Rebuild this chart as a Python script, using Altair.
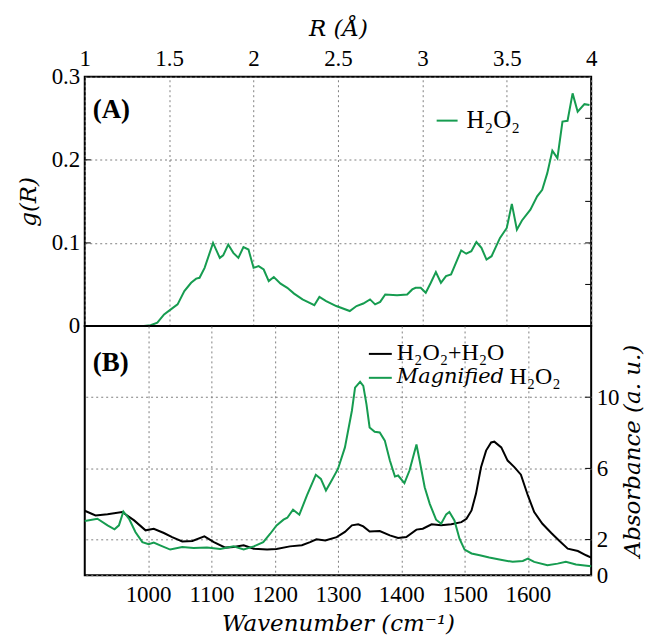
import altair as alt
import pandas as pd

# ---------------- data ----------------
R_A = [1.25, 1.30, 1.35, 1.39, 1.43, 1.47, 1.51, 1.55, 1.59, 1.63, 1.66, 1.68, 1.71, 1.76, 1.80,
       1.82, 1.85, 1.88, 1.91, 1.94, 1.97, 2.00, 2.03, 2.06, 2.09, 2.12, 2.16, 2.20, 2.24, 2.29,
       2.32, 2.36, 2.39, 2.43, 2.49, 2.57, 2.61, 2.65, 2.69, 2.72, 2.75, 2.78, 2.85, 2.91, 2.94,
       2.96, 2.99, 3.02, 3.05, 3.08, 3.11, 3.14, 3.17, 3.23, 3.26, 3.29, 3.32, 3.35, 3.38, 3.41,
       3.46, 3.50, 3.53, 3.56, 3.59, 3.64, 3.68, 3.71, 3.74, 3.77, 3.80, 3.83, 3.86, 3.89, 3.92,
       3.96, 3.99]
G_A = [0, 0, 0, 0.001, 0.004, 0.014, 0.020, 0.026, 0.042, 0.052, 0.057, 0.058, 0.070, 0.100, 0.082,
       0.085, 0.098, 0.088, 0.082, 0.095, 0.092, 0.070, 0.072, 0.068, 0.054, 0.059, 0.051, 0.046, 0.039, 0.032,
       0.029, 0.025, 0.035, 0.030, 0.024, 0.018, 0.024, 0.027, 0.032, 0.026, 0.029, 0.038, 0.037, 0.038, 0.044,
       0.046, 0.046, 0.040, 0.052, 0.065, 0.052, 0.060, 0.062, 0.091, 0.087, 0.090, 0.101, 0.094, 0.080, 0.084,
       0.106, 0.118, 0.147, 0.116, 0.127, 0.140, 0.156, 0.164, 0.184, 0.211, 0.202, 0.246, 0.247, 0.280, 0.258,
       0.267, 0.266]

WN_MIX = [900, 917, 936, 959, 978, 996, 1009, 1025, 1038, 1054, 1070, 1089, 1104, 1122, 1135,
          1151, 1167, 1188, 1203, 1224, 1243, 1256, 1266, 1280, 1298, 1311, 1322, 1332, 1340, 1350,
          1366, 1382, 1395, 1408, 1424, 1434, 1448, 1463, 1479, 1495, 1503, 1511, 1518, 1526, 1534,
          1542, 1547, 1558, 1568, 1579, 1589, 1600, 1610, 1623, 1637, 1650, 1663, 1679, 1692, 1700]
ABS_MIX = [3.62, 3.36, 3.42, 3.55, 3.08, 2.52, 2.61, 2.37, 2.14, 1.90, 1.92, 2.18, 1.86, 1.55, 1.58,
           1.68, 1.49, 1.44, 1.47, 1.62, 1.68, 1.86, 2.02, 1.95, 2.14, 2.43, 2.80, 2.86, 2.74, 2.46,
           2.48, 2.24, 2.09, 2.14, 2.56, 2.61, 2.86, 2.80, 2.86, 2.98, 3.17, 3.64, 4.57, 6.06, 7.00,
           7.46, 7.50, 7.18, 6.44, 6.06, 5.65, 4.48, 3.55, 2.89, 2.37, 1.92, 1.49, 1.36, 1.12, 0.99]

WN_MAG = [900, 920, 936, 947, 954, 961, 970, 980, 991, 1001, 1009, 1020, 1035, 1054, 1072,
          1093, 1114, 1135, 1151, 1167, 1182, 1193, 1203, 1214, 1220, 1229, 1239, 1251, 1265, 1273,
          1281, 1290, 1300, 1311, 1322, 1327, 1335, 1340, 1345, 1350, 1358, 1366, 1374, 1382, 1390,
          1395, 1405, 1413, 1424, 1429, 1437, 1445, 1455, 1463, 1471, 1476, 1484, 1492, 1500, 1511,
          1524, 1539, 1555, 1576, 1592, 1600, 1610, 1631, 1647, 1660, 1676, 1700]
ABS_MAG = [3.04, 3.17, 2.80, 2.58, 2.80, 3.58, 3.17, 2.43, 1.86, 1.74, 1.83, 1.66, 1.44, 1.58, 1.53,
           1.55, 1.47, 1.62, 1.44, 1.62, 1.86, 2.33, 2.80, 3.12, 3.23, 3.68, 3.40, 4.48, 5.64, 5.41,
           4.76, 5.32, 5.97, 7.18, 9.24, 10.54, 10.86, 10.64, 9.61, 8.30, 8.06, 8.02, 7.56, 6.44, 5.54,
           5.60, 5.17, 5.88, 7.34, 6.44, 4.94, 4.01, 3.12, 2.89, 3.42, 3.55, 3.08, 2.05, 1.44, 1.22,
           1.12, 0.99, 0.88, 0.75, 0.80, 0.93, 0.75, 0.56, 0.65, 0.75, 0.60, 0.50]

R_TICKS = [1, 1.5, 2, 2.5, 3, 3.5, 4]
G_TICKS = [0, 0.1, 0.2, 0.3]
G_RIGHT_MINOR = [0.05, 0.1, 0.15, 0.2, 0.25]
G_LEFT_MINOR = [0.1, 0.2]
WN_TICKS = [1000, 1100, 1200, 1300, 1400, 1500, 1600]
ABS_TICKS = [0, 2, 6, 10]
ABS_RIGHT_MINOR = [2, 6, 10]

GREEN = "#169c50"
FONT = "Liberation Serif"
TFONT = "DejaVu Serif"
W, H = 508, 250
LBL = 23
TTL = 23

dfA = pd.DataFrame({"R": R_A, "g": G_A})
dfMix = pd.DataFrame({"wn": WN_MIX, "A": ABS_MIX})
dfMag = pd.DataFrame({"wn": WN_MAG, "A": ABS_MAG})

axis_common = dict(labelFont=FONT, labelFontSize=LBL, labelColor="black", labelFlush=False,
                   titleFont=TFONT, titleFontSize=TTL, titleFontStyle="italic",
                   titleFontWeight="normal", titleColor="black",
                   ticks=False, domain=False, grid=True, gridDash=[2, 3],
                   gridColor="#808080", gridWidth=1, gridOpacity=1)

xA = alt.X("R:Q", scale=alt.Scale(domain=[1, 4], nice=False),
           axis=alt.Axis(orient="top", values=R_TICKS, format="~g", title="R (Å)",
                         labelPadding=6, titlePadding=7, **axis_common))
yA = alt.Y("g:Q", scale=alt.Scale(domain=[0, 0.3], nice=False),
           axis=alt.Axis(orient="left", values=G_TICKS, format="~g", title="g(R)",
                         labelPadding=5, titlePadding=11, **axis_common))

lineA = alt.Chart(dfA).mark_line(color=GREEN, strokeWidth=2).encode(x=xA, y=yA)


def txt(s, x, y, **kw):
    return alt.Chart(pd.DataFrame({"t": [s]})).mark_text(
        font=kw.pop("font", FONT), fontSize=kw.pop("fontSize", 24), align="left", baseline="middle",
        color="black", **kw
    ).encode(x=alt.value(x), y=alt.value(y), text="t:N")


def seg(x1, x2, y, color):
    return alt.Chart(pd.DataFrame({"d": [0]})).mark_rule(color=color, strokeWidth=2).encode(
        x=alt.value(x1), x2=alt.value(x2), y=alt.value(y))


tickRA = alt.Chart(pd.DataFrame({"g": G_RIGHT_MINOR})).mark_rule(color="black", strokeWidth=1).encode(
    y="g:Q", x=alt.value(W), x2=alt.value(W - 6))
tickLA = alt.Chart(pd.DataFrame({"g": G_LEFT_MINOR})).mark_rule(color="black", strokeWidth=1).encode(
    y="g:Q", x=alt.value(0), x2=alt.value(6))

panelA = alt.layer(
    lineA, tickRA, tickLA,
    txt("(A)", 8, 33, fontWeight="bold", fontSize=27),
    seg(353, 374, 44, GREEN),
    txt("H₂O₂", 383, 43, fontSize=25),
).properties(width=W, height=H)

xB = alt.X("wn:Q", scale=alt.Scale(domain=[900, 1700], nice=False),
           axis=alt.Axis(orient="bottom", values=WN_TICKS, format="d", title="Wavenumber (cm⁻¹)",
                         labelPadding=8, titlePadding=6, **axis_common))
yB = alt.Y("A:Q", scale=alt.Scale(domain=[0, 14], nice=False),
           axis=alt.Axis(orient="right", values=ABS_TICKS, format="d", title="Absorbance (a. u.)",
                         labelPadding=5, titlePadding=2, titleAngle=270, titleBaseline="top",
                         **axis_common))

lineMix = alt.Chart(dfMix).mark_line(color="black", strokeWidth=2).encode(x=xB, y=yB)
lineMag = alt.Chart(dfMag).mark_line(color=GREEN, strokeWidth=2).encode(x="wn:Q", y="A:Q")
tickRB = alt.Chart(pd.DataFrame({"A": ABS_RIGHT_MINOR})).mark_rule(color="black", strokeWidth=1).encode(
    y="A:Q", x=alt.value(W), x2=alt.value(W - 6))

panelB = alt.layer(
    lineMix, lineMag, tickRB,
    txt("(B)", 8, 37, fontWeight="bold", fontSize=27),
    seg(285, 308, 28, "black"),
    txt("H₂O₂+H₂O", 313, 27),
    seg(285, 308, 52, GREEN),
    txt("Magnified", 313, 51, font=TFONT, fontStyle="italic", fontSize=21),
    txt("H₂O₂", 426, 51),
).properties(width=W, height=H)

chart = alt.vconcat(panelA, panelB, spacing=0, bounds="flush").properties(
    padding={"left": 8, "top": 8, "right": 0, "bottom": 0}
).configure_view(
    stroke="black", strokeWidth=2
).configure_concat(spacing=0)

chart.save("out.html", embed_options={"renderer": "svg", "actions": False})
